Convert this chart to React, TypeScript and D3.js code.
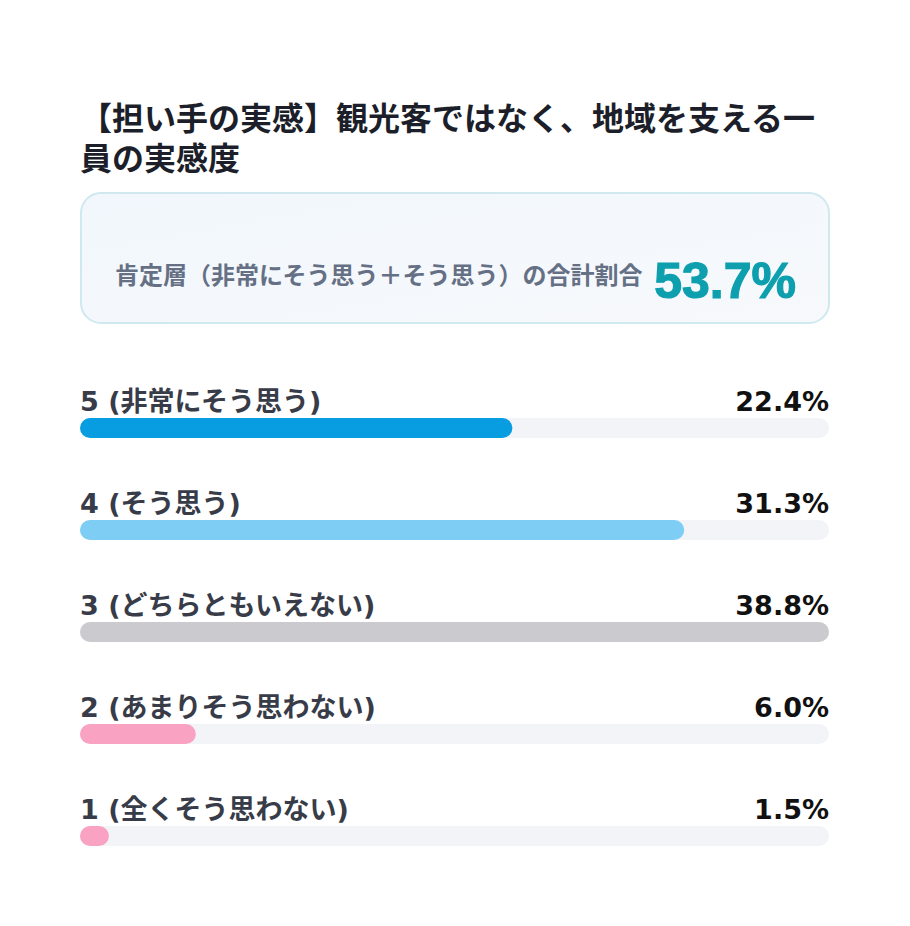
import { useRef, useEffect } from "react";
import * as d3 from "d3";

const titleLines = ["【担い手の実感】観光客ではなく、地域を支える一", "員の実感度"];
const summaryLabel = "肯定層（非常にそう思う＋そう思う）の合計割合";
const summaryValue = "53.7%";

const categories = [
  "5 (非常にそう思う)",
  "4 (そう思う)",
  "3 (どちらともいえない)",
  "2 (あまりそう思わない)",
  "1 (全くそう思わない)",
];
const values = [22.4, 31.3, 38.8, 6.0, 1.5];
const colors = ["#089de1", "#7dcdf4", "#cbcbcf", "#f9a2c2", "#f9a2c2"];

const W = 910;
const H = 926;
const FONT = "'Liberation Sans', 'Noto Sans CJK JP', sans-serif";
const WIDE = "'DejaVu Sans', 'Noto Sans CJK JP', sans-serif";

export default function App() {
  const svgRef = useRef<SVGSVGElement>(null);

  useEffect(() => {
    const svg = d3.select(svgRef.current);
    svg.selectAll("*").remove();

    const left = 80;
    const right = 829;

    // title, two lines as wrapped in the original
    svg
      .append("g")
      .selectAll("text")
      .data(titleLines)
      .join("text")
      .attr("x", left)
      .attr("y", (_, i) => 130 + i * 40)
      .attr("font-size", 32)
      .attr("font-weight", 700)
      .attr("fill", "#1c1f2a")
      .attr("font-family", FONT)
      .text((d) => d);

    // summary box
    const defs = svg.append("defs");
    const grad = defs
      .append("linearGradient")
      .attr("id", "boxGrad")
      .attr("x1", "0%")
      .attr("y1", "0%")
      .attr("x2", "100%")
      .attr("y2", "100%");
    grad.append("stop").attr("offset", "0%").attr("stop-color", "#f1f7fc");
    grad.append("stop").attr("offset", "100%").attr("stop-color", "#f7f9fc");

    svg
      .append("rect")
      .attr("x", left + 1)
      .attr("y", 193)
      .attr("width", right - left - 1)
      .attr("height", 130)
      .attr("rx", 20)
      .attr("fill", "url(#boxGrad)")
      .attr("stroke", "#cfe9ef")
      .attr("stroke-width", 2);

    svg
      .append("text")
      .attr("x", 115)
      .attr("y", 284)
      .attr("font-size", 24)
      .attr("font-weight", 700)
      .attr("fill", "#667085")
      .attr("font-family", FONT)
      .text(summaryLabel);

    svg
      .append("text")
      .attr("x", 796)
      .attr("y", 298)
      .attr("text-anchor", "end")
      .attr("font-size", 50)
      .attr("font-weight", 700)
      .attr("stroke", "#0e9fae")
      .attr("stroke-width", 1.2)
      .attr("fill", "#0e9fae")
      .attr("font-family", FONT)
      .text(summaryValue);

    // bars
    const x = d3
      .scaleLinear()
      .domain([0, d3.max(values) || 1])
      .range([left, right]);
    const y = d3
      .scaleBand()
      .domain(categories)
      .range([380, 380 + 102 * categories.length])
      .padding(0);

    const barH = 20;
    const rows = svg
      .append("g")
      .selectAll("g")
      .data(categories)
      .join("g")
      .attr("transform", (d) => `translate(0,${y(d)})`);

    rows
      .append("text")
      .attr("x", left)
      .attr("y", 31)
      .attr("font-size", 27)
      .attr("font-weight", 700)
      .attr("fill", "#383c48")
      .attr("font-family", WIDE)
      .text((d) => d);

    rows
      .append("text")
      .attr("x", right)
      .attr("y", 31)
      .attr("text-anchor", "end")
      .attr("font-size", 27)
      .attr("font-weight", 700)
      .attr("fill", "#111111")
      .attr("font-family", WIDE)
      .text((_, i) => `${values[i].toFixed(1)}%`);

    rows
      .append("rect")
      .attr("x", left)
      .attr("y", 38)
      .attr("width", right - left)
      .attr("height", barH)
      .attr("rx", barH / 2)
      .attr("fill", "#f3f4f8");

    rows
      .append("rect")
      .attr("x", left)
      .attr("y", 38)
      .attr("width", (_, i) => Math.max(barH, x(values[i]) - left))
      .attr("height", barH)
      .attr("rx", barH / 2)
      .attr("fill", (_, i) => colors[i]);
  }, []);

  return (
    <svg
      ref={svgRef}
      width={W}
      height={H}
      style={{ position: "absolute", left: 0, top: 0, background: "#fff" }}
    />
  );
}
